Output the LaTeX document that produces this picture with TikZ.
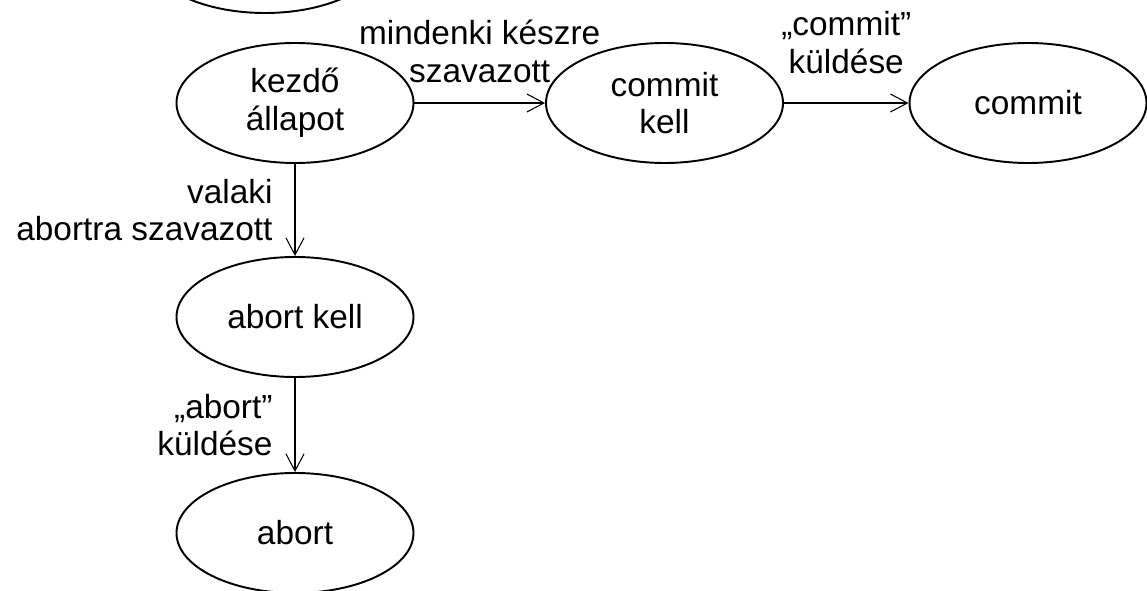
\documentclass[tikz,border=0pt]{standalone}
\usepackage{fontspec}
\setmainfont{Liberation Sans}
\usetikzlibrary{shapes.geometric,arrows.meta}

\begin{document}
\begin{tikzpicture}[
  state/.style={draw, ellipse, line width=1.1pt, minimum width=4.74cm, minimum height=2.40cm},
  arr/.style={-{Straight Barb[length=0.34cm,width=0.36cm]}, line width=0.6pt}
]
\tikzstyle{every node}+=[inner sep=0pt, font=\fontsize{19}{21.5}\selectfont]
\useasboundingbox (0,0) rectangle (22.94,11.8);
\clip (0,0) rectangle (22.94,11.8);
\node[state] (fent) at (5.30,12.74) {};
\node[state,align=center] (kezdo) at (5.90,9.74) {kezdő\\állapot};
\node[state,align=center] (commitkell) at (13.29,9.74) {commit\\kell};
\node[state] (commit) at (20.56,9.74) {commit};
\node[state] (abortkell) at (5.90,5.46) {abort kell};
\node[state] (abort) at (5.90,1.14) {abort};
\draw[arr] (kezdo) -- node[above=4mm,align=center] (l1) {mindenki készre\\szavazott} (commitkell);
\draw[arr] (commitkell) -- node[above=5.8mm,align=center] (l2) {„commit”\\küldése} (commit);
\draw[arr] (kezdo) -- node[left=4.4mm,align=right] (l3) {valaki\\abortra szavazott} (abortkell);
\draw[arr] (abortkell) -- node[left=4.4mm,align=right] (l4) {„abort”\\küldése} (abort);
\end{tikzpicture}
\end{document}
